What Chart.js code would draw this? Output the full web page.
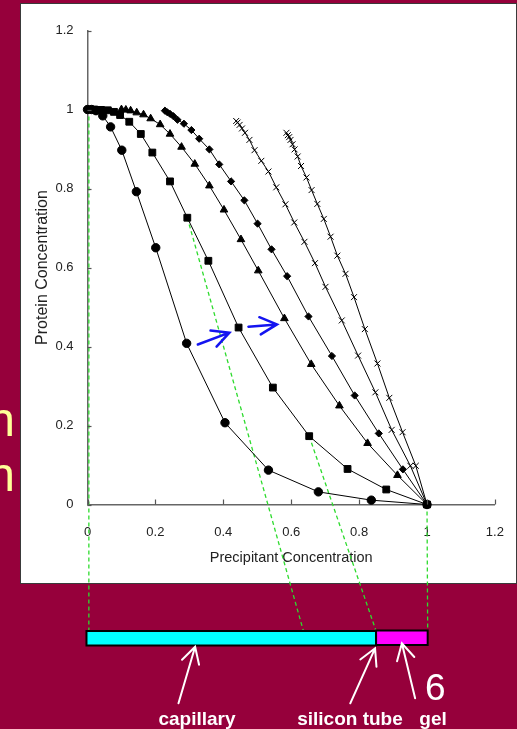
<!DOCTYPE html>
<html><head><meta charset="utf-8">
<script src="https://cdn.jsdelivr.net/npm/chart.js@4/dist/chart.umd.min.js"></script>
<style>
html,body{margin:0;padding:0;background:#96003b;width:517px;height:729px;overflow:hidden;}
#wrap{position:relative;width:517px;height:729px;overflow:hidden;}
canvas{position:absolute;left:0;top:0;}
.lbl{position:absolute;font-family:"Liberation Sans",Arial,sans-serif;color:#fff;white-space:nowrap;line-height:1;}
.b{font-weight:bold;font-size:19px;transform:translateX(-50%);}
.y{color:#ffff99;font-size:48px;transform:translateX(-100%);}
</style></head><body>
<div id="wrap">
<canvas id="c" width="517" height="729"></canvas>
<div class="lbl y" style="left:15px;top:396px;">n</div>
<div class="lbl y" style="left:15px;top:451px;">n</div>
<div class="lbl b" style="left:197px;top:709px;">capillary</div>
<div class="lbl b" style="left:350px;top:709px;">silicon tube</div>
<div class="lbl b" style="left:433px;top:709px;">gel</div>
<div class="lbl" style="left:425px;top:669px;font-size:37px;">6</div>
</div>
<script>
// ---- data ----
const circleX = [0, 0.012, 0.025, 0.045, 0.068, 0.101, 0.144, 0.201, 0.292, 0.405, 0.533, 0.680, 0.836, 1.0];
const circleY = [1.0, 1.0, 0.997, 0.984, 0.956, 0.897, 0.792, 0.650, 0.408, 0.207, 0.087, 0.032, 0.011, 0];

const squareX = [0.02, 0.04, 0.06, 0.078, 0.096, 0.123, 0.157, 0.191, 0.243, 0.294, 0.356, 0.445, 0.546, 0.653, 0.766, 0.880, 1.0];
const squareY = [1.0, 0.999, 0.998, 0.994, 0.986, 0.969, 0.938, 0.891, 0.818, 0.726, 0.617, 0.448, 0.296, 0.173, 0.090, 0.038, 0];

const triX = [0.100, 0.113, 0.127, 0.145, 0.165, 0.186, 0.214, 0.243, 0.277, 0.316, 0.359, 0.402, 0.452, 0.503, 0.580, 0.659, 0.742, 0.825, 0.913, 1.0];
const triY = [1.0, 0.999, 0.997, 0.992, 0.987, 0.977, 0.962, 0.938, 0.905, 0.862, 0.807, 0.746, 0.671, 0.592, 0.471, 0.355, 0.250, 0.155, 0.074, 0];

const diaX = [0.228, 0.235, 0.243, 0.253, 0.265, 0.284, 0.306, 0.329, 0.359, 0.388, 0.423, 0.462, 0.501, 0.542, 0.588, 0.651, 0.720, 0.787, 0.858, 0.929, 1.0];
const diaY = [0.997, 0.993, 0.989, 0.983, 0.974, 0.964, 0.948, 0.926, 0.899, 0.861, 0.818, 0.770, 0.711, 0.646, 0.578, 0.476, 0.376, 0.276, 0.180, 0.089, 0];

const crossAX = [0.438, 0.442, 0.448, 0.455, 0.464, 0.477, 0.492, 0.512, 0.533, 0.556, 0.583, 0.609, 0.639, 0.670, 0.701, 0.749, 0.797, 0.848, 0.896, 0.951, 1.0];
const crossAY = [0.971, 0.967, 0.961, 0.952, 0.941, 0.923, 0.897, 0.870, 0.843, 0.803, 0.760, 0.714, 0.665, 0.611, 0.551, 0.466, 0.377, 0.284, 0.189, 0.098, 0];

const crossBX = [0.586, 0.590, 0.594, 0.598, 0.604, 0.610, 0.619, 0.629, 0.645, 0.660, 0.677, 0.696, 0.716, 0.736, 0.760, 0.785, 0.817, 0.854, 0.889, 0.928, 0.967, 1.0];
const crossBY = [0.941, 0.935, 0.930, 0.923, 0.912, 0.899, 0.881, 0.857, 0.828, 0.796, 0.761, 0.723, 0.678, 0.630, 0.584, 0.525, 0.444, 0.357, 0.270, 0.183, 0.098, 0];

// axis ranges / ticks
const axisMin = 0, axisMax = 1.2, tickStep = 0.2;
const xTitle = 'Precipitant Concentration';
const yTitle = 'Protein Concentration';

// diagram: capillary / silicon tube / gel along the precipitant axis
const capillaryFrom = -0.003, capillaryTo = 0.850, gelTo = 1.002;
// green dashed guides: [fromX, fromY, toX on bar]
const guideFromX = [0.004, 0.294, 0.653, 1.0];
const guideFromY = [1.0, 0.726, 0.173, 0];
const guideToX   = [0.004, 0.636, 0.850, 1.002];
// blue arrows (data space): tail -> tip
const blueTailX = [0.325, 0.474], blueTailY = [0.405, 0.450];
const blueTipX  = [0.418, 0.558], blueTipY  = [0.435, 0.456];
// white label arrows: tip x (data), tail x (data)
const whiteTipX  = [0.317, 0.847, 0.926];
const whiteTailX = [0.268, 0.774, 0.965];

const MAROON = '#96003b';
const toPts = (xs, ys) => xs.map((x, i) => ({x, y: ys[i]}));
const fmt = v => String(Number(Number(v).toFixed(2)));

function arrow(ctx, x0, y0, x1, y1, len, ang) {
  const a = Math.atan2(y0 - y1, x0 - x1);
  ctx.beginPath();
  ctx.moveTo(x0, y0); ctx.lineTo(x1, y1);
  ctx.moveTo(x1 + len * Math.cos(a + ang), y1 + len * Math.sin(a + ang));
  ctx.lineTo(x1, y1);
  ctx.lineTo(x1 + len * Math.cos(a - ang), y1 + len * Math.sin(a - ang));
  ctx.stroke();
}

const deco = {
  id: 'deco',
  beforeDraw(chart) {
    const ctx = chart.ctx;
    ctx.save();
    ctx.fillStyle = MAROON; ctx.fillRect(0, 0, 517, 729);
    ctx.fillStyle = '#fff'; ctx.fillRect(21, 4, 495, 579);
    ctx.strokeStyle = '#3a3a3a'; ctx.lineWidth = 1; ctx.strokeRect(20.5, 3.5, 496, 580);
    ctx.restore();
  },
  beforeDatasetsDraw(chart) {
    const ctx = chart.ctx, xs = chart.scales.x, ys = chart.scales.y;
    const barTop = 631;
    ctx.save();
    ctx.strokeStyle = '#2edb2e'; ctx.lineWidth = 1.3; ctx.setLineDash([4, 3]);
    for (let i = 0; i < guideFromX.length; i++) {
      ctx.beginPath();
      ctx.moveTo(xs.getPixelForValue(guideFromX[i]), ys.getPixelForValue(guideFromY[i]));
      ctx.lineTo(xs.getPixelForValue(guideToX[i]), barTop);
      ctx.stroke();
    }
    ctx.restore();
  },
  afterDraw(chart) {
    const ctx = chart.ctx, xs = chart.scales.x, ys = chart.scales.y;
    ctx.save();
    // inward tick marks
    ctx.strokeStyle = '#555'; ctx.lineWidth = 1.2;
    const ax = xs.getPixelForValue(axisMin), ay = ys.getPixelForValue(axisMin);
    ys.ticks.forEach(t => { const p = Math.round(ys.getPixelForValue(t.value)) + 0.5; ctx.beginPath(); ctx.moveTo(ax, p); ctx.lineTo(ax + 4, p); ctx.stroke(); });
    xs.ticks.forEach(t => { const p = Math.round(xs.getPixelForValue(t.value)) + 0.5; ctx.beginPath(); ctx.moveTo(p, ay); ctx.lineTo(p, ay - 5); ctx.stroke(); });
    // bar
    const barTop = 631, barH = 14.5;
    const c0 = xs.getPixelForValue(capillaryFrom), c1 = xs.getPixelForValue(capillaryTo), g1 = xs.getPixelForValue(gelTo);
    ctx.lineWidth = 2; ctx.strokeStyle = '#000';
    ctx.fillStyle = '#00ffff'; ctx.fillRect(c0, barTop, c1 - c0, barH); ctx.strokeRect(c0, barTop, c1 - c0, barH);
    ctx.fillStyle = '#ff00ff'; ctx.fillRect(c1, barTop - 0.5, g1 - c1, barH); ctx.strokeRect(c1, barTop - 0.5, g1 - c1, barH);
    // white arrows
    ctx.strokeStyle = '#fff'; ctx.lineWidth = 2; ctx.lineCap = 'round';
    const tipY = [646.7, 648.3, 643.3], tailY = [703.3, 703.3, 698.3];
    for (let i = 0; i < whiteTipX.length; i++) {
      arrow(ctx, xs.getPixelForValue(whiteTailX[i]), tailY[i], xs.getPixelForValue(whiteTipX[i]), tipY[i], 18.5, 0.5);
    }
    // blue arrows
    ctx.strokeStyle = '#1414f0'; ctx.lineWidth = 2.5;
    for (let i = 0; i < blueTipX.length; i++) {
      arrow(ctx, xs.getPixelForValue(blueTailX[i]), ys.getPixelForValue(blueTailY[i]),
        xs.getPixelForValue(blueTipX[i]), ys.getPixelForValue(blueTipY[i]), 19, 0.47);
    }
    ctx.restore();
  }
};

Chart.defaults.font.family = '"Liberation Sans", Arial, sans-serif';
const base = {showLine: true, borderColor: '#000', borderWidth: 1, pointBackgroundColor: '#000',
  pointBorderColor: '#000', pointBorderWidth: 1, tension: 0, clip: false, fill: false};

new Chart(document.getElementById('c'), {
  type: 'scatter',
  data: {
    datasets: [
      {...base, data: toPts(circleX, circleY), pointStyle: 'circle', pointRadius: 4.2},
      {...base, data: toPts(squareX, squareY), pointStyle: 'rect', pointRadius: 4.8},
      {...base, data: toPts(triX, triY), pointStyle: 'triangle', pointRadius: 4.4},
      {...base, data: toPts(diaX, diaY), pointStyle: 'rectRot', pointRadius: 3.6},
      {...base, data: toPts(crossAX, crossAY), pointStyle: 'crossRot', pointRadius: 4.2},
      {...base, data: toPts(crossBX, crossBY), pointStyle: 'crossRot', pointRadius: 4.2}
    ]
  },
  options: {
    responsive: false, animation: false, devicePixelRatio: 1,
    layout: {padding: {left: 0, top: 30.5, right: 22.1, bottom: 146}},
    plugins: {legend: {display: false}, tooltip: {enabled: false}},
    events: [],
    scales: {
      x: {
        type: 'linear', position: 'bottom', min: axisMin, max: axisMax,
        ticks: {stepSize: tickStep, padding: 20, color: '#222', font: {size: 13}, maxRotation: 0, autoSkip: false, callback: fmt},
        grid: {display: false, drawTicks: false},
        border: {display: true, color: '#666', width: 1.5},
        title: {display: true, text: xTitle, color: '#222', font: {size: 14.5}, padding: {top: 0, bottom: 16.3}},
        afterFit(s) { s.height = 78.5; s.paddingLeft = 0; s.paddingRight = 0; }
      },
      y: {
        type: 'linear', position: 'left', min: axisMin, max: axisMax,
        ticks: {stepSize: tickStep, padding: 14, color: '#222', font: {size: 13}, callback: fmt},
        grid: {display: false, drawTicks: false},
        border: {display: true, color: '#666', width: 1.5},
        title: {display: true, text: yTitle, color: '#222', font: {size: 16}, padding: {top: 33, bottom: 0}},
        afterFit(s) { s.width = 87.5; s.paddingTop = 0; s.paddingBottom = 0; }
      }
    }
  },
  plugins: [deco]
});
</script>
</body></html>
